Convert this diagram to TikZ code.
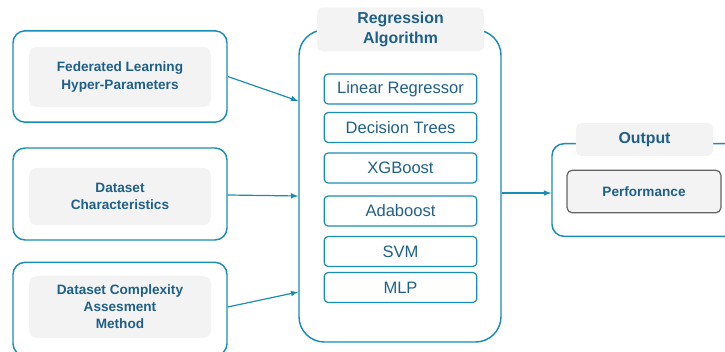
\documentclass[tikz,border=0pt]{standalone}
\usepackage{fontspec}
\setmainfont{Liberation Sans}
\usepackage{tikz}
\usetikzlibrary{arrows}
\definecolor{Frame-1}{RGB}{27,141,181}
\definecolor{Label-1}{RGB}{31,96,136}
\definecolor{Fill-1}{RGB}{243,243,243}
\definecolor{Edge-2}{RGB}{100,100,100}

\tikzset{
  outerbox/.style={draw=Frame-1, line width=1.1pt, fill=white, rounded corners=9pt},
  innerbox/.style={fill=Fill-1, rounded corners=6pt, align=center, text=Label-1, font=\fontsize{10.2}{12.8}\selectfont\bfseries},
  titlebox/.style={fill=Fill-1, rounded corners=4pt, align=center, text=Label-1, font=\fontsize{11.9}{15}\selectfont\bfseries},
  algobox/.style={draw=Frame-1, line width=0.9pt, rounded corners=3pt, text=Label-1, font=\fontsize{12.4}{14}\selectfont},
}

\begin{document}
\begin{tikzpicture}[x=0.75pt, y=-0.75pt]
    \clip (0,0) rectangle (725,352);
    \fill[white] (0,0) rectangle (725,352);

    % inputs
    \node[outerbox, minimum width=160.5pt, minimum height=68.5pt] (in_hyper) at (120, 76.5) {};
    \node[outerbox, minimum width=160.5pt, minimum height=69pt]   (in_data)  at (120, 194) {};
    \node[outerbox, minimum width=160.5pt, minimum height=70pt]   (in_cplx)  at (120, 309) {};

    \node[innerbox, minimum width=136.5pt, minimum height=45pt]   (lbl_hyper) at (120, 77)  {Federated Learning\\Hyper-Parameters};
    \node[innerbox, minimum width=136.5pt, minimum height=43pt]   (lbl_data)  at (120, 196.5) {Dataset\\Characteristics};
    \node[innerbox, minimum width=136.5pt, minimum height=46.5pt] (lbl_cplx)  at (120, 307) {Dataset Complexity\\Assesment\\Method};

    % regression algorithms
    \node[outerbox, rounded corners=19pt, minimum width=151.5pt, minimum height=234pt] (algo) at (400, 186) {};
    \node[titlebox, minimum width=125pt, minimum height=31.5pt] (algo_title) at (400.5, 29.5) {Regression\\Algorithm};

    \node[algobox, minimum width=114.5pt, minimum height=22.5pt] (alg_lin) at (400.5, 89)   {Linear Regressor};
    \node[algobox, minimum width=114.5pt, minimum height=22.5pt] (alg_dt)  at (400.5, 127.5) {Decision Trees};
    \node[algobox, minimum width=114.5pt, minimum height=22.5pt] (alg_xgb) at (400.5, 168)  {XGBoost};
    \node[algobox, minimum width=114.5pt, minimum height=22.5pt] (alg_ada) at (400.5, 211)  {Adaboost};
    \node[algobox, minimum width=114.5pt, minimum height=22.5pt] (alg_svm) at (400.5, 251.5) {SVM};
    \node[algobox, minimum width=114.5pt, minimum height=22.5pt] (alg_mlp) at (400.5, 287.5) {MLP};

    % output
    \node[outerbox, minimum width=156pt, minimum height=69.5pt] (out) at (656, 190) {};
    \node[titlebox, minimum width=103pt, minimum height=24.5pt] (out_title) at (644.5, 139.5) {Output};
    \node[innerbox, draw=Edge-2, line width=0.9pt, rounded corners=4pt, minimum width=115.5pt, minimum height=32pt] (perf) at (644, 191.5) {Performance};

    \draw[->,>=latex, draw=Frame-1, line width=0.9pt] (in_hyper.east) -- (algo.west |- 0,101);
    \draw[->,>=latex, draw=Frame-1, line width=0.9pt] (in_data.east |- 0,195) -- (algo.west |- 0,196);
    \draw[->,>=latex, draw=Frame-1, line width=0.9pt] (in_cplx.east |- 0,307) -- (algo.west |- 0,292);

    \draw[->,>=latex, draw=Frame-1, line width=0.9pt] (algo.east |- 0,193) -- (out.west |- 0,193);
  \end{tikzpicture}
\end{document}
